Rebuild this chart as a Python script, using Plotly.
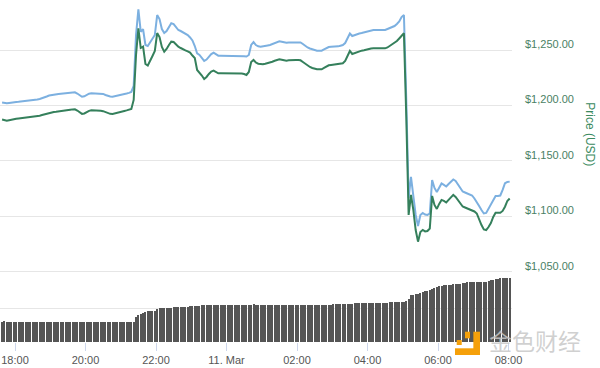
import pandas as pd
import plotly.graph_objects as go

# ---- data ----
times = pd.date_range("2018-03-10 17:38", periods=217, freq="4min")

price_alt = [
    1202.7, 1202.3, 1202.0, 1202.3, 1202.7, 1203.2, 1203.2, 1203.3, 1203.5, 1203.8,
    1204.1, 1204.3, 1204.5, 1204.8, 1205.1, 1205.4, 1205.9, 1206.5, 1207.2, 1208.1,
    1209.0, 1209.5, 1209.7, 1210.1, 1210.4, 1210.6, 1210.8, 1210.9, 1211.3, 1211.5,
    1211.9, 1211.9, 1210.8, 1209.0, 1207.9, 1208.3, 1209.5, 1210.6, 1211.0, 1211.0,
    1211.0, 1211.0, 1210.8, 1210.4, 1209.5, 1208.6, 1208.1, 1207.9, 1208.3, 1208.8,
    1209.5, 1209.9, 1210.4, 1210.8, 1211.4, 1212.2, 1217.6, 1263.5, 1286.7, 1266.5,
    1268.7, 1254.5, 1253.6, 1257.2, 1259.9, 1263.5, 1281.5, 1277.9, 1268.9, 1265.3,
    1267.1, 1271.2, 1274.1, 1273.4, 1270.7, 1268.0, 1267.1, 1265.8, 1264.9, 1263.5,
    1261.3, 1258.6, 1253.6, 1246.9, 1245.5, 1243.2, 1240.1, 1241.4, 1244.1, 1246.4,
    1247.5, 1245.9, 1244.9, 1244.9, 1244.9, 1245.0, 1245.0, 1244.9, 1244.9, 1244.8,
    1244.8, 1244.6, 1244.6, 1244.4, 1244.1, 1245.5, 1254.5, 1257.2, 1254.5, 1253.3,
    1253.0, 1253.2, 1253.6, 1254.1, 1254.5, 1255.4, 1256.3, 1257.2, 1257.8, 1257.4,
    1256.8, 1256.6, 1256.8, 1256.9, 1256.9, 1256.9, 1256.9, 1256.8, 1255.4, 1253.6,
    1252.3, 1251.4, 1250.5, 1249.6, 1249.4, 1249.4, 1249.4, 1250.5, 1251.6, 1252.7,
    1253.0, 1253.0, 1253.0, 1253.3, 1253.9, 1254.5, 1256.3, 1260.8, 1264.9, 1262.6,
    1263.5, 1264.2, 1264.9, 1265.3, 1265.8, 1266.2, 1266.9, 1267.8, 1268.0, 1268.0,
    1268.0, 1268.0, 1268.0, 1268.0, 1268.9, 1269.8, 1270.7, 1271.6, 1273.4, 1275.7,
    1279.7, 1281.5, 1205.0, 1116.7, 1135.6, 1119.4, 1101.4, 1091.4, 1101.4, 1103.2,
    1101.8, 1101.4, 1102.7, 1132.9, 1125.7, 1122.1, 1125.7, 1129.7, 1128.4, 1127.0,
    1129.3, 1131.5, 1133.3, 1132.0, 1128.4, 1125.2, 1122.5, 1121.6, 1120.7, 1119.8,
    1118.9, 1116.2, 1113.3, 1109.5, 1105.9, 1102.7, 1103.2, 1106.8, 1110.4, 1114.9,
    1118.5, 1118.5, 1118.9, 1123.9, 1129.9, 1131.1, 1131.4,
]

price_usd = [
    1187.4, 1186.8, 1186.3, 1186.7, 1187.3, 1187.8, 1188.0, 1188.3, 1188.5, 1188.7,
    1188.9, 1189.2, 1189.5, 1189.6, 1190.0, 1190.4, 1190.8, 1191.4, 1192.1, 1192.8,
    1193.5, 1194.0, 1194.2, 1194.4, 1194.8, 1195.1, 1195.4, 1195.7, 1196.0, 1196.2,
    1196.5, 1196.6, 1195.5, 1193.7, 1192.4, 1192.8, 1194.2, 1195.2, 1195.7, 1195.7,
    1195.5, 1195.4, 1195.3, 1194.9, 1194.0, 1193.1, 1192.5, 1192.4, 1192.8, 1193.4,
    1194.0, 1194.5, 1195.1, 1195.6, 1196.2, 1196.9, 1205.0, 1245.5, 1269.6, 1251.8,
    1253.0, 1237.4, 1236.0, 1241.0, 1244.6, 1249.1, 1265.3, 1261.7, 1252.7, 1248.5,
    1250.9, 1254.5, 1257.5, 1257.2, 1255.0, 1253.0, 1251.8, 1250.5, 1249.6, 1248.7,
    1247.6, 1245.0, 1242.8, 1232.0, 1229.7, 1227.0, 1223.9, 1225.7, 1228.4, 1230.6,
    1231.4, 1230.2, 1229.0, 1229.0, 1229.0, 1229.3, 1229.3, 1229.0, 1229.0, 1229.0,
    1228.8, 1228.8, 1228.8, 1228.4, 1227.5, 1230.2, 1239.2, 1241.0, 1238.7, 1237.6,
    1237.1, 1237.1, 1237.6, 1238.0, 1238.6, 1239.4, 1240.3, 1241.2, 1241.6, 1241.2,
    1240.5, 1240.4, 1240.7, 1241.0, 1241.0, 1241.0, 1241.0, 1240.7, 1239.2, 1237.4,
    1236.0, 1234.7, 1233.8, 1232.9, 1232.7, 1232.6, 1232.6, 1233.8, 1235.1, 1236.2,
    1236.5, 1236.8, 1237.1, 1237.4, 1237.7, 1238.0, 1240.1, 1245.5, 1249.1, 1246.4,
    1247.3, 1248.0, 1248.8, 1249.4, 1249.8, 1250.5, 1250.9, 1251.4, 1251.5, 1251.5,
    1251.5, 1251.5, 1251.5, 1251.5, 1252.3, 1253.6, 1255.0, 1256.0, 1258.1, 1260.4,
    1263.1, 1265.1, 1189.6, 1101.4, 1119.4, 1105.9, 1087.8, 1077.3, 1086.0, 1087.8,
    1086.5, 1086.9, 1089.2, 1118.5, 1110.4, 1106.8, 1111.3, 1114.9, 1114.0, 1112.6,
    1114.9, 1117.6, 1119.4, 1117.6, 1114.9, 1111.7, 1109.0, 1108.1, 1107.2, 1106.3,
    1105.4, 1104.5, 1102.7, 1096.9, 1092.3, 1088.3, 1087.8, 1090.5, 1094.1, 1099.6,
    1103.4, 1103.4, 1103.4, 1105.0, 1108.8, 1114.0, 1116.2,
]

volume_m = [
    301, 302, 301, 300, 301, 301, 290, 290, 290, 290,
    290, 290, 290, 290, 290, 290, 290, 290, 290, 290,
    290, 290, 290, 290, 290, 290, 290, 290, 290, 290,
    290, 290, 290, 290, 290, 290, 290, 290, 290, 290,
    290, 290, 290, 290, 290, 290, 290, 290, 290, 290,
    290, 290, 290, 290, 290, 290, 290, 372, 397, 419,
    431, 441, 449, 456, 456, 463, 478, 493, 500, 504,
    504, 504, 504, 518, 518, 518, 518, 518, 518, 518,
    529, 529, 529, 529, 529, 541, 541, 541, 541, 544,
    544, 544, 544, 544, 544, 544, 544, 544, 544, 544,
    544, 544, 544, 544, 544, 544, 544, 559, 550, 544,
    544, 544, 544, 544, 544, 544, 544, 544, 544, 544,
    544, 544, 544, 544, 544, 544, 544, 544, 544, 544,
    544, 544, 544, 544, 544, 544, 544, 544, 544, 544,
    544, 559, 559, 559, 559, 559, 559, 559, 559, 559,
    569, 569, 569, 569, 569, 569, 569, 569, 569, 569,
    569, 569, 569, 569, 569, 584, 584, 584, 584, 584,
    584, 584, 603, 628, 684, 691, 699, 706, 716, 728,
    743, 754, 765, 779, 801, 812, 821, 826, 831, 835,
    838, 843, 849, 853, 856, 860, 863, 872, 882, 885,
    885, 885, 885, 885, 887, 887, 887, 897, 912, 916,
    924, 929, 937, 937, 937, 937, 937,
]

price_ticks = [1050, 1100, 1150, 1200, 1250]
price_tick_labels = ["$1,050.00", "$1,100.00", "$1,150.00", "$1,200.00", "$1,250.00"]
time_ticks = ["2018-03-10 18:00", "2018-03-10 20:00", "2018-03-10 22:00", "2018-03-11 00:00",
              "2018-03-11 02:00", "2018-03-11 04:00", "2018-03-11 06:00", "2018-03-11 08:00"]
time_tick_labels = ["18:00", "20:00", "22:00", "11. Mar", "02:00", "04:00", "06:00", "08:00"]

FONT = "Liberation Sans, Arial, sans-serif"
GRID = "#e6e6e6"

fig = go.Figure()
fig.add_trace(go.Bar(x=times, y=volume_m, yaxis="y2", width=105000,
                     marker=dict(color="#555555", line=dict(width=0)), name="Volume"))
fig.add_trace(go.Scatter(x=times, y=price_alt, mode="lines", name="Price (alt)",
                         line=dict(color="#7cb0e0", width=2)))
fig.add_trace(go.Scatter(x=times, y=price_usd, mode="lines", name="Price (USD)",
                         line=dict(color="#35805c", width=2)))

fig.update_layout(
    width=600, height=368, autosize=False,
    margin=dict(l=0, r=88, t=0, b=26, pad=0),
    paper_bgcolor="white", plot_bgcolor="white",
    showlegend=False, bargap=0,
    font=dict(family=FONT, size=11, color="#555555"),
    xaxis=dict(type="date", range=["2018-03-10 17:34:28", "2018-03-11 08:05:57"],
               tickvals=time_ticks, ticktext=time_tick_labels,
               ticks="outside", ticklen=8, tickcolor="#ccd6eb",
               showgrid=False, showline=False, zeroline=False, automargin=False,
               tickfont=dict(size=11, color="#555555")),
    yaxis=dict(side="right", range=[986.9, 1295.05],
               tickvals=price_ticks, ticktext=price_tick_labels,
               showgrid=True, gridcolor=GRID, gridwidth=1,
               zeroline=False, showline=False, ticks="", automargin=False,
               ticklabelstandoff=12, ticklabelshift=-6,
               tickfont=dict(size=11, color="#4a7f65")),
    yaxis2=dict(overlaying="y", side="left", range=[0, 5029],
                tickvals=[500], showticklabels=False, automargin=False,
                showgrid=True, gridcolor=GRID, gridwidth=1,
                zeroline=False, showline=False, ticks=""),
)

fig.add_annotation(text="Price (USD)", xref="paper", yref="paper", x=1.152, y=0.608,
                   xanchor="center", yanchor="middle",
                   textangle=90, showarrow=False,
                   font=dict(family=FONT, size=12, color="#3a8a60"))

# watermark
fig.add_annotation(text="金色财经", xref="paper", yref="paper", x=1.045, y=0.006,
                   xanchor="center", yanchor="middle", showarrow=False,
                   font=dict(family="Noto Sans CJK SC", size=23, color="rgba(200,200,200,0.85)"))
for x0, x1, y0, y1 in [(0.9245, 0.9375, -0.038, 0.0301), (0.8887, 0.9375, -0.038, -0.0184),
                       (0.892, 0.9018, -0.0088, 0.0058), (0.9082, 0.918, 0.0108, 0.0301)]:
    fig.add_shape(type="rect", xref="paper", yref="paper", x0=x0, x1=x1, y0=y0, y1=y1,
                  fillcolor="#f5a00a", line=dict(width=0), layer="above")

fig.write_html("out.html", config={"displayModeBar": False},
               post_script="document.body.style.margin='0px';document.body.style.overflow='hidden';")
